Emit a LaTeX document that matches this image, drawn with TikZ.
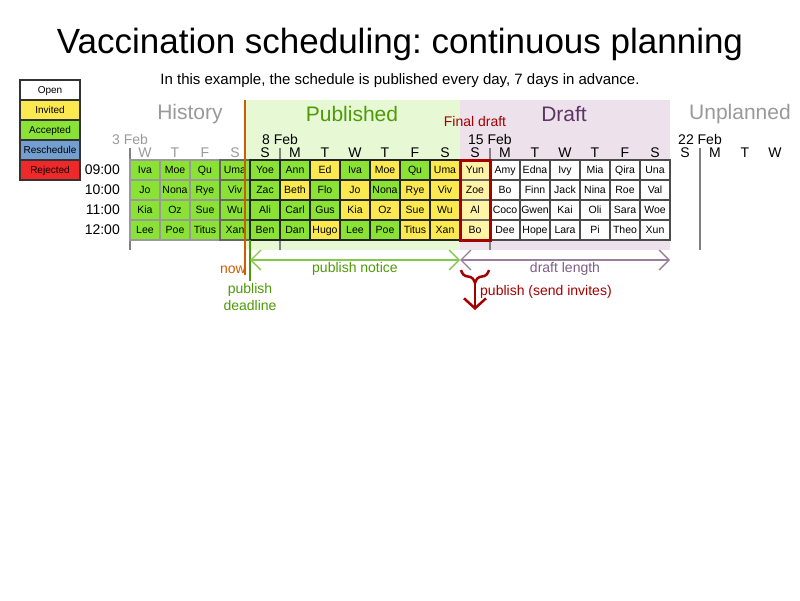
\documentclass[tikz,border=0pt]{standalone}
\usepackage{fontspec}
\setmainfont{Liberation Sans}
\usetikzlibrary{positioning}
\usetikzlibrary{arrows.meta,decorations.pathreplacing}
\definecolor{invitado}{HTML}{FCE94F}
\definecolor{aceptado}{HTML}{8AE234}
\definecolor{reprog}{HTML}{729FCF}
\definecolor{rechazado}{HTML}{EF2929}
\definecolor{fondopub}{HTML}{E7F8D5}
\definecolor{fondobor}{HTML}{EDE1EC}
\definecolor{verdepub}{HTML}{4E9A06}
\definecolor{verdeflecha}{HTML}{85C94A}
\definecolor{moradobor}{HTML}{5C3566}
\definecolor{moradoflecha}{HTML}{9A7F9C}
\definecolor{naranja}{HTML}{CE5C00}
\definecolor{rojofinal}{HTML}{A40000}
\definecolor{amarillofinal}{HTML}{FFF4A6}
\newcommand{\tam}[1]{\fontsize{#1}{#1}\selectfont}
\frenchspacing

\begin{document}
\begin{tikzpicture}[x=1pt,y=-1pt]
\tikzset{
    celda/.style={rectangle, draw=black!85, line width=1.3pt, minimum width=30pt, minimum height=20pt,
                  inner sep=0pt, outer sep=0pt, text height=7.5pt, text depth=0pt, text centered, font=\tam{10.5}},
    hist/.style={celda, fill=aceptado, draw=black!40},
    histS/.style={celda, fill=aceptado, draw=black!60},
    acep/.style={celda, fill=aceptado},
    invit/.style={celda, fill=invitado},
    final/.style={celda, fill=amarillofinal, draw=black!60},
    borr/.style={celda, fill=white, draw=black!70},
    leyenda/.style={celda, draw=black!80, minimum width=60pt, text height=7pt, font=\tam{10}},
    dia/.style={inner sep=0pt, font=\tam{14}},
    seccion/.style={inner sep=0pt, font=\tam{21}},
    etiqueta/.style={inner sep=0pt, text centered, font=\tam{14}},
    semana/.style={draw=black!50, line width=2pt},
    flecha/.style={<->, >={Straight Barb[length=10pt,width=20pt]}, line width=1.3pt}
}
\useasboundingbox (0,0) rectangle (800,600);

% fondos
\fill[fondopub] (245,100) rectangle (460,250);
\fill[fondobor] (460,100) rectangle (670,250);
\draw[semana] (130,148) -- (130,250);
\draw[semana] (280,148) -- (280,250);
\draw[semana] (490,148) -- (490,250);
\draw[semana] (700,148) -- (700,250);

\node[anchor=base, inner sep=0pt, font=\tam{35}] (titulo) at (400,53) {Vaccination scheduling: continuous planning};
\node[anchor=base, inner sep=0pt, font=\tam{15}] (subtitulo) at (400,84) {In this example, the schedule is published every day, 7 days in advance.};

% leyenda
\node[leyenda, fill=white] (lopen) at (50,90) {Open};
\node[leyenda, fill=invitado, below=0pt of lopen] (linv) {Invited};
\node[leyenda, fill=aceptado, below=0pt of linv] (lacep) {Accepted};
\node[leyenda, fill=reprog, below=0pt of lacep] (lrepr) {Reschedule};
\node[leyenda, fill=rechazado, below=0pt of lrepr] (lrech) {Rejected};

\node[seccion, text=black!40] (shist) at (190,114) {History};
\node[seccion, text=verdepub] (spub) at (352,114) {Published};
\node[seccion, text=moradobor] (sbor) at (564,114) {Draft};
\node[seccion, text=black!40] (sunpl) at (740,114) {Unplanned};
\node[etiqueta, text=rojofinal] (lfinal) at (475,121) {Final draft};

\node[dia, text=black!40] (f3) at (130,139) {3 Feb};
\node[dia] (f8) at (280,139) {8 Feb};
\node[dia] (f15) at (490,139) {15 Feb};
\node[dia] (f22) at (700,139) {22 Feb};

\node[dia, text=black!40] at (145,153) {W};
\node[dia, text=black!40] at (175,153) {T};
\node[dia, text=black!40] at (205,153) {F};
\node[dia, text=black!40] at (235,153) {S};
\node[dia] at (265,153) {S};
\node[dia] at (295,153) {M};
\node[dia] at (325,153) {T};
\node[dia] at (355,153) {W};
\node[dia] at (385,153) {T};
\node[dia] at (415,153) {F};
\node[dia] at (445,153) {S};
\node[dia] at (475,153) {S};
\node[dia] at (505,153) {M};
\node[dia] at (535,153) {T};
\node[dia] at (565,153) {W};
\node[dia] at (595,153) {T};
\node[dia] at (625,153) {F};
\node[dia] at (655,153) {S};
\node[dia] at (685,153) {S};
\node[dia] at (715,153) {M};
\node[dia] at (745,153) {T};
\node[dia] at (775,153) {W};

% fila 09:00
\node[hist] (h11) at (145,170) {Iva};
\node[hist, right=0pt of h11] (h12) {Moe};
\node[hist, right=0pt of h12] (h13) {Qu};
\node[histS, right=0pt of h13] (h14) {Uma};
\node[acep, right=0pt of h14] (p11) {Yoe};
\node[acep, right=0pt of p11] (p12) {Ann};
\node[invit, right=0pt of p12] (p13) {Ed};
\node[acep, right=0pt of p13] (p14) {Iva};
\node[invit, right=0pt of p14] (p15) {Moe};
\node[acep, right=0pt of p15] (p16) {Qu};
\node[invit, right=0pt of p16] (p17) {Uma};
\node[final, right=0pt of p17] (fd1) {Yun};
\node[borr, right=0pt of fd1] (d11) {Amy};
\node[borr, right=0pt of d11] (d12) {Edna};
\node[borr, right=0pt of d12] (d13) {Ivy};
\node[borr, right=0pt of d13] (d14) {Mia};
\node[borr, right=0pt of d14] (d15) {Qira};
\node[borr, right=0pt of d15] (d16) {Una};

% fila 10:00
\node[hist, below=0pt of h11] (h21) {Jo};
\node[hist, right=0pt of h21] (h22) {Nona};
\node[hist, right=0pt of h22] (h23) {Rye};
\node[histS, right=0pt of h23] (h24) {Viv};
\node[acep, right=0pt of h24] (p21) {Zac};
\node[invit, right=0pt of p21] (p22) {Beth};
\node[acep, right=0pt of p22] (p23) {Flo};
\node[invit, right=0pt of p23] (p24) {Jo};
\node[acep, right=0pt of p24] (p25) {Nona};
\node[invit, right=0pt of p25] (p26) {Rye};
\node[invit, right=0pt of p26] (p27) {Viv};
\node[final, right=0pt of p27] (fd2) {Zoe};
\node[borr, right=0pt of fd2] (d21) {Bo};
\node[borr, right=0pt of d21] (d22) {Finn};
\node[borr, right=0pt of d22] (d23) {Jack};
\node[borr, right=0pt of d23] (d24) {Nina};
\node[borr, right=0pt of d24] (d25) {Roe};
\node[borr, right=0pt of d25] (d26) {Val};

% fila 11:00
\node[hist, below=0pt of h21] (h31) {Kia};
\node[hist, right=0pt of h31] (h32) {Oz};
\node[hist, right=0pt of h32] (h33) {Sue};
\node[histS, right=0pt of h33] (h34) {Wu};
\node[acep, right=0pt of h34] (p31) {Ali};
\node[acep, right=0pt of p31] (p32) {Carl};
\node[acep, right=0pt of p32] (p33) {Gus};
\node[invit, right=0pt of p33] (p34) {Kia};
\node[invit, right=0pt of p34] (p35) {Oz};
\node[invit, right=0pt of p35] (p36) {Sue};
\node[invit, right=0pt of p36] (p37) {Wu};
\node[final, right=0pt of p37] (fd3) {Al};
\node[borr, right=0pt of fd3] (d31) {Coco};
\node[borr, right=0pt of d31] (d32) {Gwen};
\node[borr, right=0pt of d32] (d33) {Kai};
\node[borr, right=0pt of d33] (d34) {Oli};
\node[borr, right=0pt of d34] (d35) {Sara};
\node[borr, right=0pt of d35] (d36) {Woe};

% fila 12:00
\node[hist, below=0pt of h31] (h41) {Lee};
\node[hist, right=0pt of h41] (h42) {Poe};
\node[hist, right=0pt of h42] (h43) {Titus};
\node[histS, right=0pt of h43] (h44) {Xan};
\node[acep, right=0pt of h44] (p41) {Ben};
\node[acep, right=0pt of p41] (p42) {Dan};
\node[invit, right=0pt of p42] (p43) {Hugo};
\node[acep, right=0pt of p43] (p44) {Lee};
\node[acep, right=0pt of p44] (p45) {Poe};
\node[invit, right=0pt of p45] (p46) {Titus};
\node[invit, right=0pt of p46] (p47) {Xan};
\node[final, right=0pt of p47] (fd4) {Bo};
\node[borr, right=0pt of fd4] (d41) {Dee};
\node[borr, right=0pt of d41] (d42) {Hope};
\node[borr, right=0pt of d42] (d43) {Lara};
\node[borr, right=0pt of d43] (d44) {Pi};
\node[borr, right=0pt of d44] (d45) {Theo};
\node[borr, right=0pt of d45] (d46) {Xun};

\node[etiqueta, left=10pt of h11] (t9) {09:00};
\node[etiqueta, left=10pt of h21] (t10) {10:00};
\node[etiqueta, left=10pt of h31] (t11) {11:00};
\node[etiqueta, left=10pt of h41] (t12) {12:00};

\draw[rojofinal, line width=3pt] (fd1.north west) rectangle (fd4.south east);

% ahora y plazo
\coordinate (ahora1) at (245,100);
\coordinate (ahora2) at (245,275);
\coordinate (plazo1) at (250,240);
\coordinate (plazo2) at (250,281);
\draw[naranja, line width=2pt] (ahora1) -- (ahora2);
\draw[verdepub, line width=2pt] (plazo1) -- (plazo2);
\node[etiqueta, text=naranja, anchor=east] (lahora) at (246,270) {now};
\node[etiqueta, text=verdepub, align=center, font=\fontsize{14}{17}\selectfont] (lplazo) at (250,297) {publish\\deadline};

\coordinate (aviso1) at (250,260);
\coordinate (aviso2) at (460,260);
\coordinate (aviso3) at (670,260);
\draw[flecha, verdeflecha] (aviso1) -- (aviso2) node[midway, below=2pt, etiqueta, text=verdepub] (laviso) {publish notice};
\draw[flecha, moradoflecha] (aviso2) -- (aviso3) node[midway, below=2pt, etiqueta, text=moradobor!80] (lbor) {draft length};

\coordinate (llave1) at (461,270);
\coordinate (llave2) at (489,270);
\coordinate (envio1) at (475,283);
\coordinate (envio2) at (475,310);
\draw[rojofinal, line width=2.5pt, decorate, decoration={brace, mirror, amplitude=13pt}] (llave1) -- (llave2);
\draw[rojofinal, line width=2.5pt, -{Straight Barb[length=10pt,width=22pt]}] (envio1) -- (envio2);
\node[etiqueta, text=rojofinal, anchor=west] (lenvio) at (480,292) {publish (send invites)};

\end{tikzpicture}
\end{document}
